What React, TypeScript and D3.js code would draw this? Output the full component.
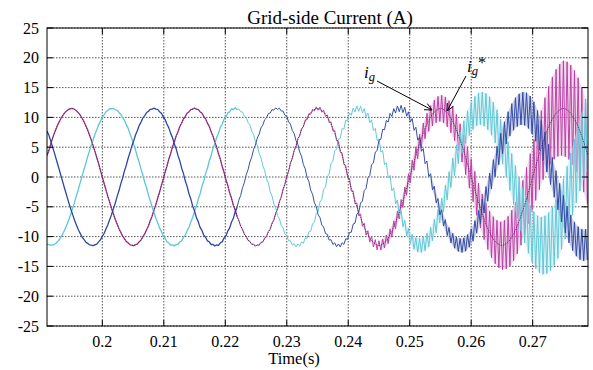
import React from "react";
import * as d3 from "d3";

const width = 593;
const height = 370;
const margin = { top: 28, right: 5, bottom: 44, left: 47 };

const title = "Grid-side Current (A)";
const xLabel = "Time(s)";
const xTicks = [0.2, 0.21, 0.22, 0.23, 0.24, 0.25, 0.26, 0.27];
const yTicks = [-25, -20, -15, -10, -5, 0, 5, 10, 15, 20, 25];
const xDomain = [0.191, 0.279];
const yDomain = [-25, 25];

// fundamental read every 1 ms starting at 0.191 s
const sampleStart = 0.191;
const sampleStep = 0.001;

// phase a (magenta), also followed by the reference ig*
const phaseA = [
  3.6, 6.8, 9.3, 10.9, 11.5, 10.9, 9.3, 6.8, 3.6, 0, -3.6, -6.8, -9.3, -10.9, -11.5, -10.9, -9.3, -6.8, -3.6, 0,
  3.6, 6.8, 9.3, 10.9, 11.5, 10.9, 9.3, 6.8, 3.6, 0, -3.6, -6.8, -9.3, -10.9, -11.5, -10.9, -9.3, -6.8, -3.6, 0,
  3.6, 6.8, 9.3, 10.9, 11.5, 10.9, 9.3, 6.8, 3.6, 0, -3.6, -6.8, -9.3, -10.9, -11.5, -10.9, -9.3, -6.8, -3.6, 0,
  3.6, 6.8, 9.3, 10.9, 11.5, 10.9, 9.3, 6.8, 3.6, 0, -3.6, -6.8, -9.3, -10.9, -11.5, -10.9, -9.3, -6.8, -3.6, 0,
  3.6, 6.8, 9.3, 10.9, 11.5, 10.9, 9.3, 6.8, 3.6,
];
// phase b (cyan)
const phaseB = [
  -11.3, -11.4, -10.5, -8.6, -5.8, -2.4, 1.2, 4.7, 7.7, 10.0, 11.3, 11.4, 10.5, 8.6, 5.8, 2.4, -1.2, -4.7, -7.7, -10.0,
  -11.3, -11.4, -10.5, -8.6, -5.8, -2.4, 1.2, 4.7, 7.7, 10.0, 11.3, 11.4, 10.5, 8.6, 5.8, 2.4, -1.2, -4.7, -7.7, -10.0,
  -11.3, -11.4, -10.5, -8.6, -5.8, -2.4, 1.2, 4.7, 7.7, 10.0, 11.3, 11.4, 10.5, 8.6, 5.8, 2.4, -1.2, -4.7, -7.7, -10.0,
  -11.3, -11.4, -10.5, -8.6, -5.8, -2.4, 1.2, 4.7, 7.7, 10.0, 11.3, 11.4, 10.5, 8.6, 5.8, 2.4, -1.2, -4.7, -7.7, -10.0,
  -11.3, -11.4, -10.5, -8.6, -5.8, -2.4, 1.2, 4.7, 7.7,
];
// phase c (blue)
const phaseC = [
  7.7, 4.7, 1.2, -2.4, -5.8, -8.6, -10.5, -11.4, -11.3, -10.0, -7.7, -4.7, -1.2, 2.4, 5.8, 8.6, 10.5, 11.4, 11.3, 10.0,
  7.7, 4.7, 1.2, -2.4, -5.8, -8.6, -10.5, -11.4, -11.3, -10.0, -7.7, -4.7, -1.2, 2.4, 5.8, 8.6, 10.5, 11.4, 11.3, 10.0,
  7.7, 4.7, 1.2, -2.4, -5.8, -8.6, -10.5, -11.4, -11.3, -10.0, -7.7, -4.7, -1.2, 2.4, 5.8, 8.6, 10.5, 11.4, 11.3, 10.0,
  7.7, 4.7, 1.2, -2.4, -5.8, -8.6, -10.5, -11.4, -11.3, -10.0, -7.7, -4.7, -1.2, 2.4, 5.8, 8.6, 10.5, 11.4, 11.3, 10.0,
  7.7, 4.7, 1.2, -2.4, -5.8, -8.6, -10.5, -11.4, -11.3,
];

// switching ripple: half peak-to-peak amplitude
const rippleTimes = [0.19, 0.22, 0.23, 0.235, 0.24, 0.245, 0.25, 0.255, 0.26, 0.265, 0.27, 0.275, 0.28];
const rippleA = [0, 0.1, 0.2, 0.3, 0.5, 0.8, 1.3, 2.2, 3.0, 4.0, 5.5, 8.0, 8.5];
const rippleB = [0, 0.1, 0.2, 0.3, 0.4, 0.6, 1.0, 1.6, 2.5, 3.3, 4.5, 5.5, 6.5];
const rippleC = [0, 0.1, 0.15, 0.2, 0.3, 0.4, 0.6, 0.9, 1.3, 2.2, 3.0, 2.7, 2.6];
const rippleHalfPeriod = 0.0003;

const series = [
  { name: "ia", values: phaseA, ripple: rippleA, color: "#b83ca4", band: "#e8b8de" },
  { name: "ib", values: phaseB, ripple: rippleB, color: "#5cc6d6", band: "#c0e8ef" },
  { name: "ic", values: phaseC, ripple: rippleC, color: "#2d46a2", band: "#9eaad6" },
];

const font = "'Liberation Serif', 'Times New Roman', serif";

// catmull-rom through the 1 ms samples
const baseAt = (vals: number[], t: number) => {
  const p = (t - sampleStart) / sampleStep;
  const i = Math.max(0, Math.min(vals.length - 2, Math.floor(p)));
  const u = p - i;
  const v0 = vals[Math.max(0, i - 1)];
  const v1 = vals[i];
  const v2 = vals[i + 1];
  const v3 = vals[Math.min(vals.length - 1, i + 2)];
  return (
    0.5 *
    (2 * v1 +
      (-v0 + v2) * u +
      (2 * v0 - 5 * v1 + 4 * v2 - v3) * u * u +
      (-v0 + 3 * v1 - 3 * v2 + v3) * u * u * u)
  );
};

const Arrow = ({ x1, y1, x2, y2 }: any) => {
  const a = Math.atan2(y2 - y1, x2 - x1);
  const len = 8;
  const spread = 0.45;
  const p1 = [x2 - len * Math.cos(a - spread), y2 - len * Math.sin(a - spread)];
  const p2 = [x2 - len * Math.cos(a + spread), y2 - len * Math.sin(a + spread)];
  return (
    <g stroke="#000" strokeWidth={1} fill="none">
      <line x1={x1} y1={y1} x2={x2} y2={y2} />
      <polyline points={`${p1[0]},${p1[1]} ${x2},${y2} ${p2[0]},${p2[1]}`} />
    </g>
  );
};

export default function App() {
  const x = d3.scaleLinear(xDomain, [margin.left, width - margin.right]);
  const y = d3.scaleLinear(yDomain, [height - margin.bottom, margin.top]);

  const n = Math.floor((xDomain[1] - xDomain[0]) / rippleHalfPeriod + 1e-9);
  const fineT = d3.range(n + 1).map((i) => xDomain[0] + i * rippleHalfPeriod);
  const split = 0.2216;

  const line = d3
    .line<[number, number]>()
    .x((d) => x(d[0]))
    .y((d) => y(d[1]));
  const area = d3
    .area<[number, number, number]>()
    .x((d) => x(d[0]))
    .y0((d) => y(d[1] - d[2]))
    .y1((d) => y(d[1] + d[2]));

  const refLine = d3
    .line<number>()
    .x((_, i) => x(sampleStart + i * sampleStep))
    .y((d) => y(d))
    .curve(d3.curveCatmullRom);

  const x0 = margin.left;
  const x1 = width - margin.right;
  const y0 = margin.top;
  const y1 = height - margin.bottom;

  return (
    <svg
      width={width}
      height={height}
      style={{ position: "absolute", top: 0, left: 0, background: "#fff" }}
      fontFamily={font}
    >
      <defs>
        <clipPath id="plot">
          <rect x={x0} y={y0} width={x1 - x0} height={y1 - y0} />
        </clipPath>
      </defs>
      {/* grid */}
      <g stroke="#555" strokeWidth={1} strokeDasharray="1.5,1.5">
        {xTicks.map((t) => (
          <line key={t} x1={x(t)} x2={x(t)} y1={y0} y2={y1} />
        ))}
        {yTicks.map((t) => (
          <line key={t} x1={x0} x2={x1} y1={y(t)} y2={y(t)} />
        ))}
      </g>
      {/* currents */}
      <g clipPath="url(#plot)">
        {series.map((s) => {
          const rip = d3.scaleLinear(rippleTimes, s.ripple).clamp(true);
          const pts = fineT.map((t, i) => {
            const b = baseAt(s.values, t);
            const r = rip(t);
            return [t, b + (i % 2 === 0 ? r : -r)] as [number, number];
          });
          const calm = pts.filter((d) => d[0] <= split + 0.0003);
          const rough = pts.filter((d) => d[0] >= split);
          const bandPts = fineT
            .filter((t) => rip(t) > 0.8)
            .map((t) => [t, baseAt(s.values, t), rip(t)] as [number, number, number]);
          return (
            <g key={s.name}>
              <path d={area(bandPts) || ""} fill={s.band} opacity={0.5} />
              <path
                d={line(calm) || ""}
                fill="none"
                stroke={s.color}
                strokeWidth={1.3}
                strokeLinejoin="round"
              />
              <path
                d={line(rough) || ""}
                fill="none"
                stroke={s.color}
                strokeWidth={0.95}
                strokeLinejoin="round"
              />
            </g>
          );
        })}
        <path
          d={refLine(phaseA) || ""}
          fill="none"
          stroke="#3a1a34"
          strokeWidth={0.7}
          strokeDasharray="1.5,1"
        />
      </g>
      {/* frame and ticks */}
      <rect x={x0} y={y0} width={x1 - x0} height={y1 - y0} fill="none" stroke="#000" strokeWidth={1} />
      <g stroke="#000" strokeWidth={1}>
        {xTicks.map((t) => (
          <g key={t}>
            <line x1={x(t)} x2={x(t)} y1={y1} y2={y1 - 6} />
            <line x1={x(t)} x2={x(t)} y1={y0} y2={y0 + 6} />
          </g>
        ))}
        {yTicks.map((t) => (
          <g key={t}>
            <line x1={x0} x2={x0 + 6} y1={y(t)} y2={y(t)} />
            <line x1={x1} x2={x1 - 6} y1={y(t)} y2={y(t)} />
          </g>
        ))}
      </g>
      {/* tick labels */}
      <g fontSize={16} fill="#000">
        {xTicks.map((t) => (
          <text key={t} x={x(t)} y={347} textAnchor="middle">
            {d3.format("")(t)}
          </text>
        ))}
        {yTicks.map((t) => (
          <text key={t} x={39} y={y(t)} textAnchor="end" dy="0.35em">
            {t}
          </text>
        ))}
      </g>
      <text x={330} y={24} textAnchor="middle" fontSize={19}>
        {title}
      </text>
      <text x={294} y={364} textAnchor="middle" fontSize={16.5}>
        {xLabel}
      </text>
      {/* annotations */}
      <text x={364} y={78} fontSize={17} fontStyle="italic">
        i
        <tspan fontSize={12.5} dy={3}>
          g
        </tspan>
      </text>
      <Arrow x1={377} y1={81} x2={432} y2={110} />
      <text x={467} y={72} fontSize={17} fontStyle="italic">
        i
        <tspan fontSize={12.5} dy={3}>
          g
        </tspan>
        <tspan fontSize={16} fontStyle="normal" dy={-7}>
          *
        </tspan>
      </text>
      <Arrow x1={466} y1={76} x2={447} y2={111} />
    </svg>
  );
}
